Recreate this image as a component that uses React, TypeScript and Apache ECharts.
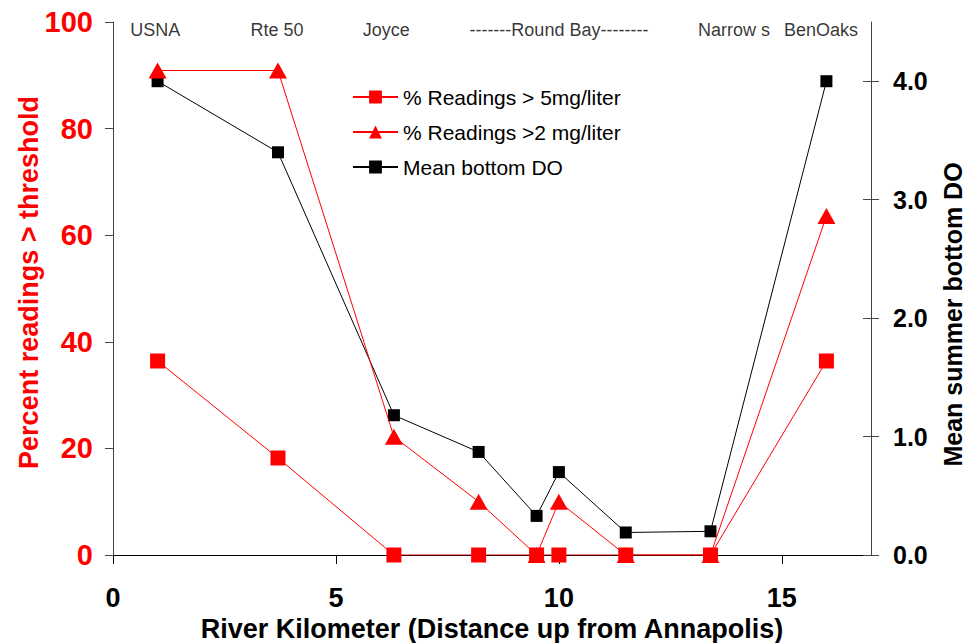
import React, { useEffect, useRef } from "react";
import * as echarts from "echarts";

const kmPoints = [1.0, 3.7, 6.3, 8.2, 9.5, 10.0, 11.5, 13.4, 16.0];
const pctAbove5 = [36.4, 18.2, 0, 0, 0, 0, 0, 0, 36.4];
const pctAbove2 = [90.9, 90.9, 22.2, 10, 0, 10, 0, 0, 63.6];
const meanBottomDO = [4.0, 3.4, 1.18, 0.87, 0.33, 0.7, 0.19, 0.2, 4.0];
const siteNames = ["USNA", "Rte 50", "Joyce", "-------Round Bay--------", "Narrow s", "BenOaks"];
const siteKm = [0.95, 3.68, 6.13, 10.0, 13.93, 15.88];
const xTicks = [0, 5, 10, 15];
const leftTicks = [0, 20, 40, 60, 80, 100];
const rightTicks = [0, 1, 2, 3, 4];

const seriesNames = ["% Readings > 5mg/liter", "% Readings >2 mg/liter", "Mean bottom DO"];

const FONT = "'Liberation Sans', Arial, sans-serif";

export default function App() {
  const ref = useRef<HTMLDivElement>(null);
  useEffect(() => {
    if (!ref.current) return;
    const chart = echarts.init(ref.current, null, { renderer: "svg" });
    const pair = (ys: number[]) => kmPoints.map((x, i) => [x, ys[i]]);
    chart.setOption({
      animation: false,
      backgroundColor: "#fff",
      textStyle: { fontFamily: FONT },
      grid: { left: 113, right: 96, top: 22, bottom: 88, containLabel: false, outerBoundsMode: "none" },
      legend: {
        data: seriesNames,
        orient: "vertical",
        left: 347,
        top: 81,
        itemWidth: 45,
        itemHeight: 16,
        itemGap: 13,
        textStyle: { fontSize: 21, fontFamily: FONT, color: "#000", lineHeight: 22 },
      },
      xAxis: {
        type: "value",
        min: 0,
        max: 17,
        interval: 5,
        name: "River Kilometer (Distance up from Annapolis)",
        nameLocation: "middle",
        nameGap: 62,
        nameMoveOverlap: false,
        nameTextStyle: { fontSize: 27, lineHeight: 24, fontWeight: "bold", color: "#000", fontFamily: FONT },
        axisLine: { show: true, onZero: false, lineStyle: { color: "#000", width: 1 } },
        axisTick: { show: true, inside: false, length: 9, customValues: xTicks, lineStyle: { color: "#000" } },
        axisLabel: {
          customValues: xTicks,
          margin: 32,
          fontSize: 27,
          lineHeight: 22,
          fontWeight: "bold",
          color: "#000",
          fontFamily: FONT,
        },
        splitLine: { show: false },
      },
      yAxis: [
        {
          type: "value",
          position: "left",
          min: 0,
          max: 100,
          interval: 20,
          name: "Percent readings > threshold",
          nameLocation: "middle",
          nameGap: 71,
          nameMoveOverlap: false,
          nameTextStyle: {
            fontSize: 27,
            fontWeight: "bold",
            color: "#ff0000",
            fontFamily: FONT,
            padding: [0, 0, 0, 12],
          },
          axisLine: { show: true, lineStyle: { color: "#444", width: 1 } },
          axisTick: { show: true, inside: false, length: 8, customValues: leftTicks, lineStyle: { color: "#444" } },
          axisLabel: {
            customValues: leftTicks,
            margin: 20,
            fontSize: 29,
            fontWeight: "bold",
            color: "#ff0000",
            fontFamily: FONT,
          },
          splitLine: { show: false },
        },
        {
          type: "value",
          position: "right",
          min: 0,
          max: 4.5,
          interval: 1,
          name: "Mean summer bottom DO",
          nameLocation: "middle",
          nameGap: 69,
          nameMoveOverlap: false,
          nameTextStyle: {
            fontSize: 25,
            fontWeight: "bold",
            color: "#000",
            fontFamily: FONT,
            padding: [0, 52, 0, 0],
          },
          axisLine: { show: true, lineStyle: { color: "#444", width: 1 } },
          axisTick: { show: true, inside: false, length: 8, customValues: rightTicks, lineStyle: { color: "#444" } },
          axisLabel: {
            customValues: rightTicks,
            margin: 22,
            fontSize: 25,
            fontWeight: "bold",
            color: "#000",
            fontFamily: FONT,
            formatter: (v: number) => v.toFixed(1),
          },
          splitLine: { show: false },
        },
        {
          type: "value",
          position: "right",
          min: 0,
          max: 4.5,
          interval: 1,
          axisLine: { show: false },
          axisTick: { show: true, inside: true, length: 8, customValues: rightTicks, lineStyle: { color: "#444" } },
          axisLabel: { show: false },
          splitLine: { show: false },
        },
      ],
      series: [
        {
          name: seriesNames[2],
          type: "line",
          yAxisIndex: 1,
          data: pair(meanBottomDO),
          symbol: "rect",
          symbolSize: 12,
          lineStyle: { color: "#000", width: 1 },
          itemStyle: { color: "#000" },
          z: 2,
        },
        {
          name: seriesNames[1],
          type: "line",
          yAxisIndex: 0,
          data: pair(pctAbove2),
          symbol: "triangle",
          symbolSize: [18, 16],
          lineStyle: { color: "#ff0000", width: 1 },
          itemStyle: { color: "#ff0000" },
          z: 3,
        },
        {
          name: seriesNames[0],
          type: "line",
          yAxisIndex: 0,
          data: pair(pctAbove5),
          symbol: "rect",
          symbolSize: 15,
          lineStyle: { color: "#ff0000", width: 1 },
          itemStyle: { color: "#ff0000" },
          z: 4,
        },
        {
          name: "sites",
          type: "scatter",
          yAxisIndex: 0,
          silent: true,
          symbolSize: 0,
          data: siteKm.map((x, i) => [x, 98.5, siteNames[i]]),
          label: {
            show: true,
            position: "inside",
            formatter: (p: any) => p.value[2],
            fontSize: 18,
            color: "#000",
            fontFamily: FONT,
          },
          z: 5,
        },
      ],
    });
    return () => chart.dispose();
  }, []);
  return (
    <div
      ref={ref}
      style={{ position: "fixed", left: 0, top: 0, width: 967, height: 643, background: "#fff" }}
    />
  );
}
